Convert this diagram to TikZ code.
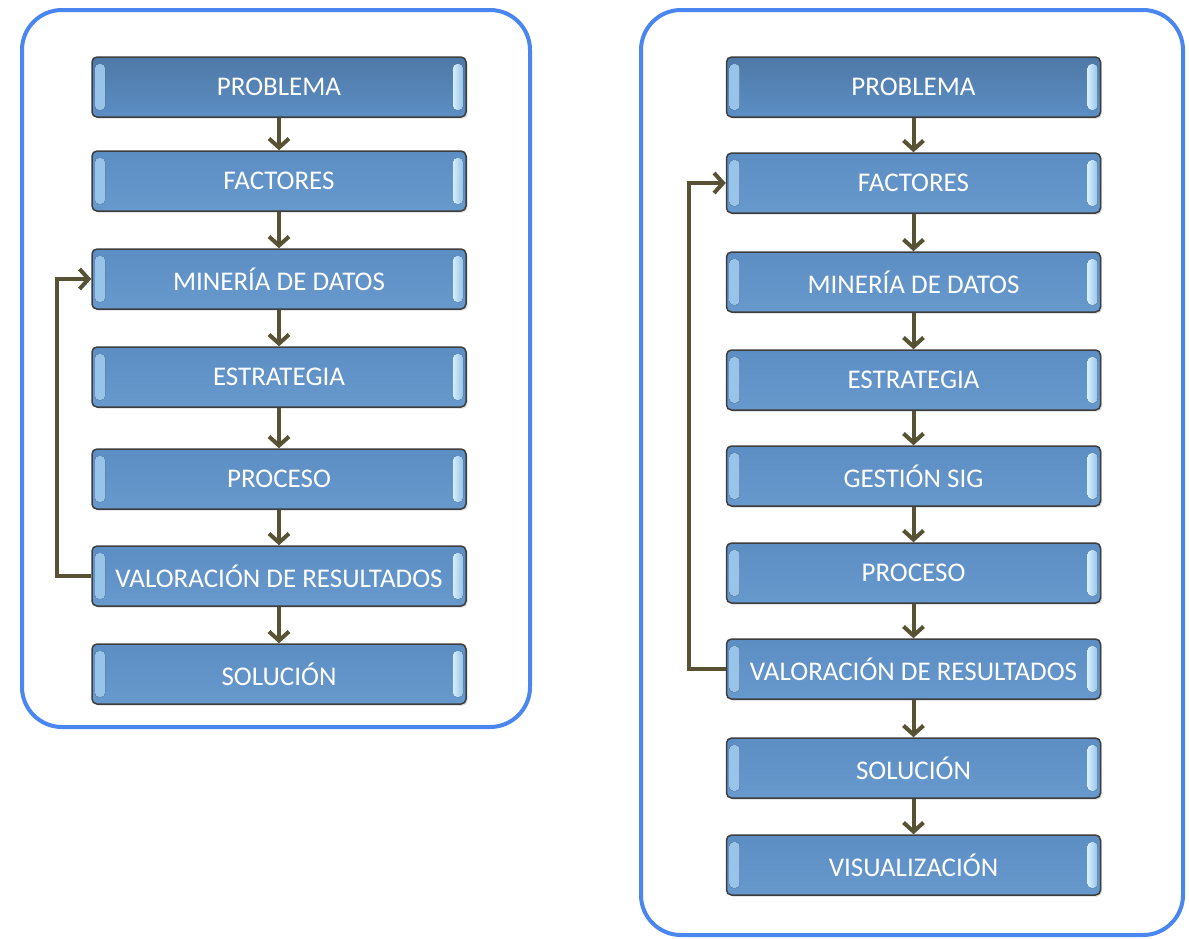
\documentclass[tikz,border=0pt]{standalone}
\usepackage{fontspec}
\setmainfont{Carlito}
\usetikzlibrary{arrows.meta,shadows}
\definecolor{panel}{RGB}{74,134,240}
\definecolor{arr}{RGB}{88,82,52}
\definecolor{boxtop}{RGB}{92,142,196}
\definecolor{boxbot}{RGB}{103,153,205}
\definecolor{hl}{RGB}{214,238,252}
\definecolor{hlmid}{RGB}{150,195,232}
\definecolor{boxedge}{RGB}{62,62,62}
\tikzset{
 panelbox/.style={draw=panel, line width=4pt, rounded corners=40pt},
 stepbox/.style={draw=boxedge, line width=1.5pt, rounded corners=5pt,
   minimum width=374pt, minimum height=60pt, inner sep=0pt,
   top color=boxtop, bottom color=boxbot, text=white,
   font=\fontsize{27}{30}\selectfont,
   drop shadow={opacity=0.3,shadow xshift=1.5pt,shadow yshift=-1.5pt},
   path picture={
     \fill[rounded corners=4pt, left color=hlmid, right color=hl] ([xshift=3pt,yshift=-7pt]path picture bounding box.north west) rectangle ([xshift=13pt,yshift=7pt]path picture bounding box.south west);
     \fill[rounded corners=4pt, right color=hlmid, left color=hl] ([xshift=-13pt,yshift=-7pt]path picture bounding box.north east) rectangle ([xshift=-3pt,yshift=7pt]path picture bounding box.south east);
   }},
 topbox/.style={top color=boxtop!85!black, bottom color=boxtop},
 flow/.style={draw=arr, line width=4pt, -{Straight Barb[length=9pt,width=20pt]}}
}
\begin{document}
\begin{tikzpicture}[x=1pt,y=-1pt]
\useasboundingbox (0,0) rectangle (1189,938);
% panels
\draw[panelbox] (22,10) rectangle (530,727);
\draw[panelbox] (641,10) rectangle (1183,935);
% left column
\node[stepbox,topbox] (lp) at (279,87) {PROBLEMA};
\node[stepbox] (lf) at (279,181) {FACTORES};
\node[stepbox] (lm) at (279,279) {MINERÍA DE DATOS};
\node[stepbox] (le) at (279,377) {ESTRATEGIA};
\node[stepbox] (lr) at (279,479) {PROCESO};
\node[stepbox] (lv) at (279,576) {VALORACIÓN DE RESULTADOS};
\node[stepbox] (ls) at (279,674) {SOLUCIÓN};
\draw[flow] (lp) -- (lf);
\draw[flow] (lf) -- (lm);
\draw[flow] (lm) -- (le);
\draw[flow] (le) -- (lr);
\draw[flow] (lr) -- (lv);
\draw[flow] (lv) -- (ls);
\draw[flow] (lv.west) -- ++(-34,0) |- (lm.west);
% right column
\node[stepbox,topbox] (rp) at (913.5,87) {PROBLEMA};
\node[stepbox] (rf) at (913.5,183) {FACTORES};
\node[stepbox] (rm) at (913.5,282) {MINERÍA DE DATOS};
\node[stepbox] (re) at (913.5,380) {ESTRATEGIA};
\node[stepbox] (rg) at (913.5,476) {GESTIÓN SIG};
\node[stepbox] (rr) at (913.5,573) {PROCESO};
\node[stepbox] (rv) at (913.5,669) {VALORACIÓN DE RESULTADOS};
\node[stepbox] (rs) at (913.5,768) {SOLUCIÓN};
\node[stepbox] (rz) at (913.5,865) {VISUALIZACIÓN};
\draw[flow] (rp) -- (rf);
\draw[flow] (rf) -- (rm);
\draw[flow] (rm) -- (re);
\draw[flow] (re) -- (rg);
\draw[flow] (rg) -- (rr);
\draw[flow] (rr) -- (rv);
\draw[flow] (rv) -- (rs);
\draw[flow] (rs) -- (rz);
\draw[flow] (rv.west) -- ++(-37,0) |- (rf.west);
\end{tikzpicture}
\end{document}
